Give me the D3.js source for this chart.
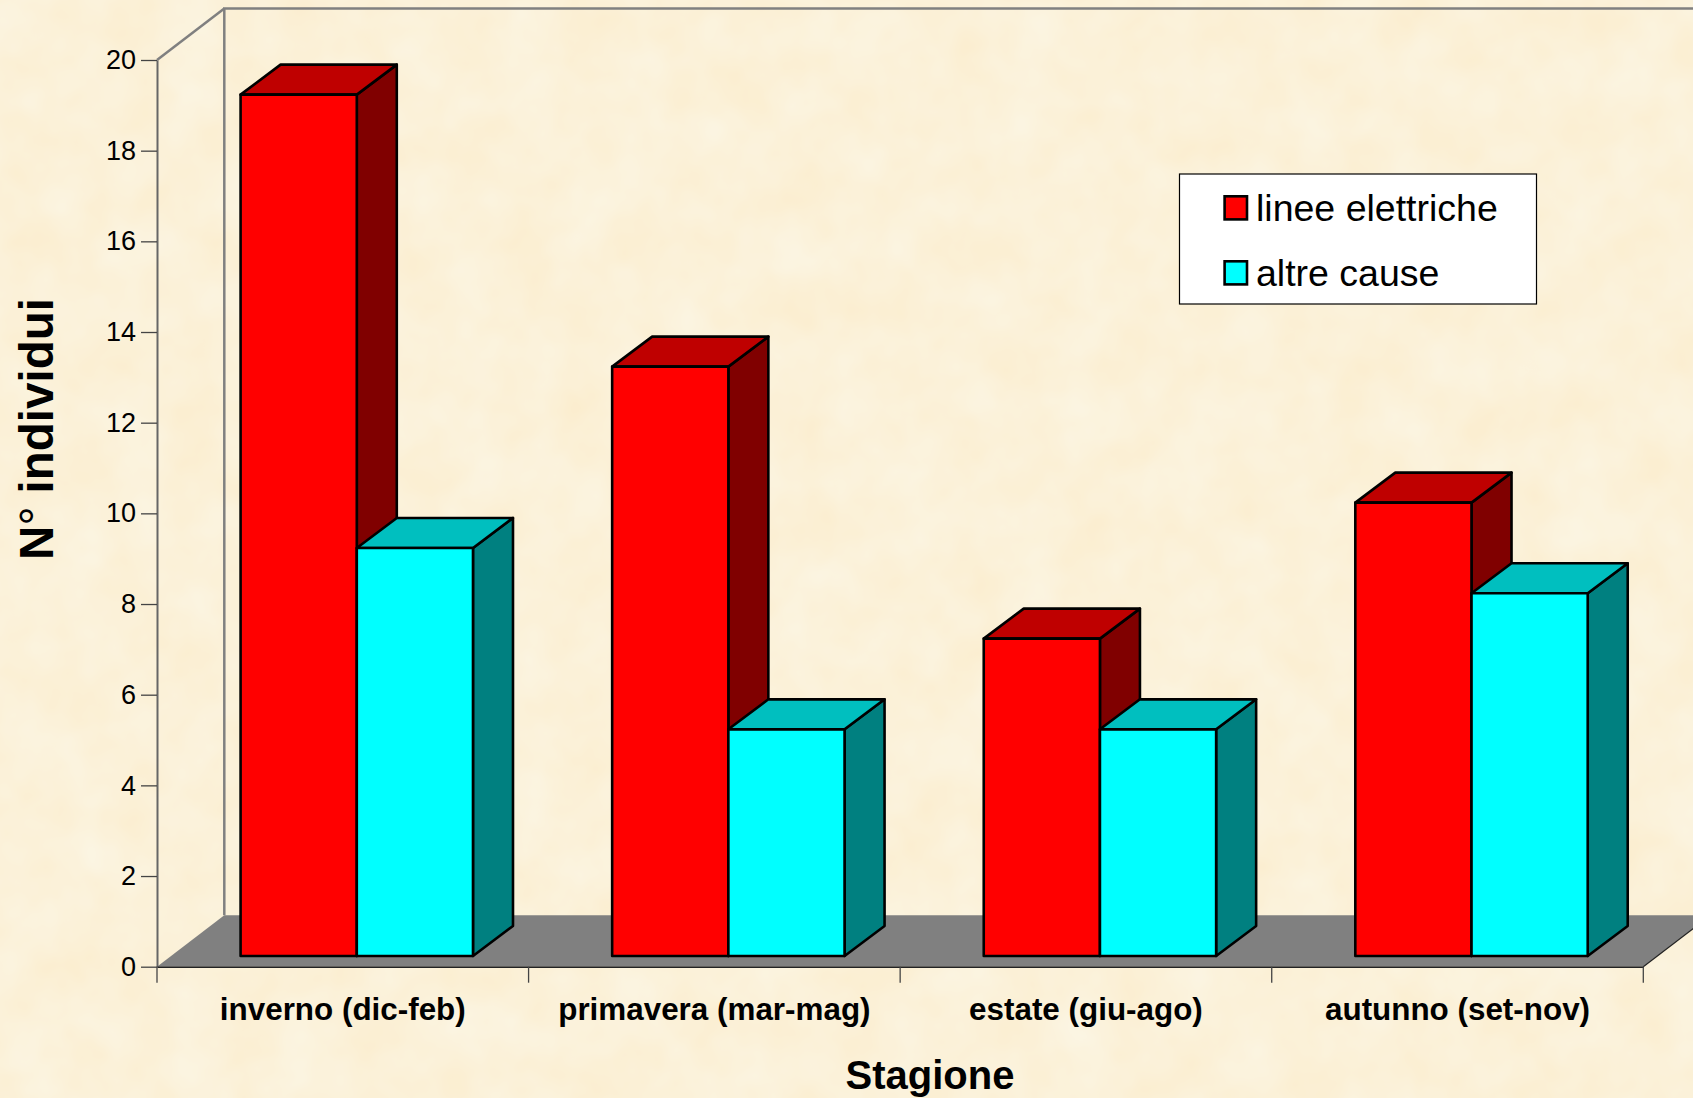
<!DOCTYPE html>
<meta charset="utf-8">
<script src="https://d3js.org/d3.v7.min.js"></script>
<style>
  html, body { margin: 0; padding: 0; background: #fcf1d9; overflow: hidden; }
  text { font-family: "Liberation Sans", Arial, sans-serif; fill: #000; }
</style>
<div id="my_dataviz"></div>
<script>

    // data
    var categories = ["inverno (dic-feb)", "primavera (mar-mag)", "estate (giu-ago)", "autunno (set-nov)"];
    var seriesNames = ["linee elettriche", "altre cause"];
    var lineeElettriche = [19, 13, 7, 10];
    var altreCause = [9, 5, 5, 8];
    var yTicks = [0, 2, 4, 6, 8, 10, 12, 14, 16, 18, 20];

    var width = 1693, height = 1098;

    // plot box: front of the floor and depth of the 3d walls
    var plotLeft = 157, plotRight = 1643.3, plotBottom = 966.7, plotTop = 60;
    var wallDx = 67.3, wallDy = 51.5;
    // bars stand a little behind the front edge, and have their own depth
    var liftX = 14, liftY = 10.7, barDx = 40, barDy = 30;
    var barW = 116.2;

    var svg = d3.select("#my_dataviz")
      .append("svg")
        .attr("width", width)
        .attr("height", height)
        .style("display", "block");

    // mottled paper background
    var filter = svg.append("defs").append("filter")
        .attr("id", "paper")
        .attr("color-interpolation-filters", "sRGB")
        .attr("x", 0).attr("y", 0).attr("width", "100%").attr("height", "100%");
    filter.append("feTurbulence")
        .attr("type", "fractalNoise")
        .attr("baseFrequency", 0.018)
        .attr("numOctaves", 3)
        .attr("seed", 4);
    filter.append("feColorMatrix")
        .attr("type", "matrix")
        .attr("values", "0 0 0 0 0.985  0.035 0 0 0 0.928  0.09 0 0 0 0.805  0 0 0 0 1");

    svg.append("rect")
        .attr("width", width)
        .attr("height", height)
        .attr("filter", "url(#paper)");

    var y = d3.scaleLinear().domain([0, 20]).range([plotBottom, plotTop]);
    var x0 = d3.scaleBand().domain(categories).range([plotLeft, plotRight]);
    var x1 = d3.scaleBand().domain(seriesNames)
        .range([x0.bandwidth() / 2 - barW, x0.bandwidth() / 2 + barW]);

    var line = d3.line();
    function poly(pts) { return line(pts) + "Z"; }

    // floor
    svg.append("path")
        .attr("d", poly([[plotLeft, plotBottom], [plotLeft + wallDx, plotBottom - wallDy],
                         [plotRight + wallDx, plotBottom - wallDy], [plotRight, plotBottom]]))
        .attr("fill", "#808080");

    // back walls
    svg.append("path")
        .attr("d", line([[plotLeft + wallDx, plotBottom - wallDy], [plotLeft + wallDx, plotTop - wallDy], [width, plotTop - wallDy]]))
        .attr("fill", "none")
        .attr("stroke", "#808080")
        .attr("stroke-width", 2.5);
    svg.append("path")
        .attr("d", line([[plotLeft, plotTop], [plotLeft + wallDx, plotTop - wallDy]]))
        .attr("fill", "none")
        .attr("stroke", "#808080")
        .attr("stroke-width", 2.5);
    // right edge of the floor
    svg.append("path")
        .attr("d", line([[plotRight, plotBottom], [plotRight + wallDx, plotBottom - wallDy]]))
        .attr("fill", "none")
        .attr("stroke", "#222")
        .attr("stroke-width", 1.2);

    // Y axis
    var yAxis = svg.append("g")
        .attr("transform", "translate(" + plotLeft + ",0)")
        .call(d3.axisLeft(y).tickValues(yTicks).tickSize(16).tickSizeOuter(0).tickPadding(5));
    yAxis.select(".domain").attr("stroke", "#666").attr("stroke-width", 2);
    yAxis.selectAll(".tick line").attr("stroke", "#444").attr("stroke-width", 1.3);
    yAxis.selectAll("text").style("font-size", "27px").style("font-family", "Liberation Sans");

    // X axis, ticks sit on the category boundaries
    var xAxis = svg.append("g")
        .attr("transform", "translate(0," + plotBottom + ")")
        .call(d3.axisBottom(x0).tickSize(0).tickSizeOuter(0).tickPadding(35));
    xAxis.select(".domain").attr("stroke", "#222").attr("stroke-width", 1.5);
    xAxis.selectAll("text")
        .style("font-size", "31.4px")
        .style("font-weight", "bold")
        .style("font-family", "Liberation Sans")
        .attr("dy", null)
        .attr("y", 53);
    xAxis.selectAll(".bound")
        .data(d3.range(categories.length + 1))
        .enter().append("line")
          .attr("class", "bound")
          .attr("x1", function(d) { return plotLeft + d * x0.step(); })
          .attr("x2", function(d) { return plotLeft + d * x0.step(); })
          .attr("y1", 0)
          .attr("y2", 16)
          .attr("stroke", "#444")
          .attr("stroke-width", 1.3);

    // bars
    var colors = {
      "linee elettriche": {front: "#ff0000", topFace: "#bf0000", side: "#800000"},
      "altre cause": {front: "#00ffff", topFace: "#00bfbf", side: "#008080"}
    };
    var rows = [];
    categories.forEach(function(c, i) {
      rows.push({cat: c, name: seriesNames[0], value: lineeElettriche[i]});
      rows.push({cat: c, name: seriesNames[1], value: altreCause[i]});
    });

    var bars = svg.append("g").selectAll("g")
      .data(rows)
      .enter().append("g")
        .attr("stroke", "#000")
        .attr("stroke-width", 2.6)
        .attr("stroke-linejoin", "round");

    function xa(d) { return x0(d.cat) + x1(d.name) + liftX; }
    function xb(d) { return xa(d) + x1.bandwidth(); }
    function yt(d) { return y(d.value) - liftY; }
    function yb() { return y(0) - liftY; }

    bars.append("path")
        .attr("d", function(d) { return poly([[xb(d), yt(d)], [xb(d) + barDx, yt(d) - barDy], [xb(d) + barDx, yb() - barDy], [xb(d), yb()]]); })
        .attr("fill", function(d) { return colors[d.name].side; });
    bars.append("path")
        .attr("d", function(d) { return poly([[xa(d), yt(d)], [xa(d) + barDx, yt(d) - barDy], [xb(d) + barDx, yt(d) - barDy], [xb(d), yt(d)]]); })
        .attr("fill", function(d) { return colors[d.name].topFace; });
    bars.append("rect")
        .attr("x", xa)
        .attr("y", yt)
        .attr("width", x1.bandwidth())
        .attr("height", function(d) { return yb() - yt(d); })
        .attr("fill", function(d) { return colors[d.name].front; });

    // axis titles
    svg.append("text")
        .attr("x", 930)
        .attr("y", 1089)
        .attr("text-anchor", "middle")
        .style("font-size", "40px")
        .style("font-weight", "bold")
        .text("Stagione");
    var yTitle = svg.append("text")
        .attr("transform", "translate(53,429) rotate(-90)")
        .attr("text-anchor", "middle")
        .style("font-size", "47.5px")
        .style("font-weight", "bold");
    yTitle.append("tspan").text("N");
    yTitle.append("tspan").style("font-weight", "normal").text("°");
    yTitle.append("tspan").text(" individui");

    // legend
    var legend = svg.append("g");
    legend.append("rect")
        .attr("x", 1179.5)
        .attr("y", 174)
        .attr("width", 357)
        .attr("height", 130)
        .attr("fill", "#fff")
        .attr("stroke", "#000")
        .attr("stroke-width", 1.2);
    var legendItem = legend.selectAll(".item")
      .data(seriesNames)
      .enter().append("g")
        .attr("class", "item")
        .attr("transform", function(d, i) { return "translate(0," + (i * 65) + ")"; });
    legendItem.append("rect")
        .attr("x", 1224.6)
        .attr("y", 196.3)
        .attr("width", 22.4)
        .attr("height", 23.1)
        .attr("fill", function(d) { return colors[d].front; })
        .attr("stroke", "#000")
        .attr("stroke-width", 2.6);
    legendItem.append("text")
        .attr("x", 1256)
        .attr("y", 221)
        .style("font-size", "37.5px")
        .text(function(d) { return d; });

</script>
